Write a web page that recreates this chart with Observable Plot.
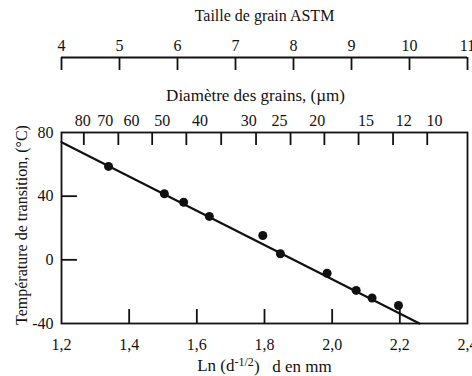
<!DOCTYPE html>
<html>
<head>
<meta charset="utf-8">
<script src="https://cdn.jsdelivr.net/npm/d3@7"></script>
<script src="https://cdn.jsdelivr.net/npm/@observablehq/plot@0.6"></script>
<style>
  body { margin: 0; background: #fff; }
  #chart svg { display: block; }
  #chart svg text { font-family: "Liberation Serif", "Times New Roman", serif; }
</style>
</head>
<body>
<div id="chart"></div>
<script>
// Transition temperature (°C) against Ln(d^-1/2), d in mm
const lnInvSqrtD = [1.339, 1.504, 1.561, 1.637, 1.795, 1.847, 1.985, 2.071, 2.118, 2.196];
const transitionTemp = [58.7, 41.5, 36.2, 27.3, 15.3, 3.8, -8.4, -19.2, -24.0, -28.7];

// Regression line endpoints
const fitX = [1.2, 2.258];
const fitY = [73.9, -40];

// Axis ticks
const xTicks = [1.2, 1.4, 1.6, 1.8, 2.0, 2.2, 2.4];
const yTicks = [-40, 0, 40, 80];
const astmSizes = [4, 5, 6, 7, 8, 9, 10, 11];
const diameterLabels = [80, 70, 60, 50, 40, 30, 25, 20, 15, 12, 10];
const diameterTickX = [1.266, 1.368, 1.468, 1.569, 1.672, 1.775, 1.877, 1.977, 2.078, 2.180, 2.281];

const points = lnInvSqrtD.map((x, i) => ({x, y: transitionTemp[i]}));
const fit = fitX.map((x, i) => ({x, y: fitY[i]}));

// Secondary scales expressed on the main x axis
const astmToX = d3.scaleLinear([4, 11], [1.2, 2.4]);
const diameterToX = (um) => -0.5 * Math.log(um / 1000);
const comma = (v) => v.toFixed(1).replace(".", ",");

const W = 472, H = 376;
const mTop = 132, mRight = 5, mBottom = 53, mLeft = 61;
const frameH = H - mTop - mBottom;
const frameW = W - mLeft - mRight;
const ink = "#111";
const font = "Liberation Serif, Times New Roman, serif";
const fs = 16;
const txt = {fontSize: fs, fontFamily: font, fill: ink, textAnchor: "middle", lineAnchor: "middle"};
const xTitle = "Ln (d-1/2)   d en mm";

const chart = Plot.plot({
  width: W,
  height: H,
  marginTop: mTop,
  marginRight: mRight,
  marginBottom: mBottom,
  marginLeft: mLeft,
  style: {fontFamily: font, fontSize: fs + "px", background: "#fff", color: ink, overflow: "visible"},
  x: {domain: [1.2, 2.4], axis: null},
  y: {domain: [-40, 80], axis: null},
  marks: [
    Plot.frame({stroke: ink, strokeWidth: 1.8}),

    // bottom axis: inward ticks and labels
    Plot.ruleX(xTicks.slice(1, -1), {x: d => d, insetTop: frameH - 14, stroke: ink, strokeWidth: 1.8}),
    Plot.text(xTicks, {x: d => d, frameAnchor: "bottom", dy: 21, text: comma, ...txt}),

    // left axis: inward ticks and labels
    Plot.ruleY(yTicks.slice(1, -1), {y: d => d, insetRight: frameW - 16, stroke: ink, strokeWidth: 1.8}),
    Plot.text(yTicks, {y: d => d, frameAnchor: "left", dx: -8, text: d => String(d), ...txt, textAnchor: "end"}),

    // grain diameter axis along the top of the frame
    Plot.ruleX(diameterTickX, {x: d => d, insetBottom: frameH - 13, stroke: ink, strokeWidth: 1.8}),
    Plot.text(diameterLabels, {x: diameterToX, frameAnchor: "top", dy: -12, text: d => String(d), ...txt}),
    Plot.text(["Diamètre des grains, (µm)"], {frameAnchor: "top", dx: -9, dy: -37, ...txt, fontSize: 17}),

    // ASTM grain size axis above
    Plot.ruleY([80], {dy: -75, stroke: ink, strokeWidth: 1.8}),
    Plot.ruleX(astmSizes, {x: astmToX, insetTop: -75, insetBottom: frameH + 75 - 13, stroke: ink, strokeWidth: 1.8}),
    Plot.text(astmSizes, {x: astmToX, frameAnchor: "top", dy: -87, text: d => String(d), ...txt}),
    Plot.text(["Taille de grain ASTM"], {frameAnchor: "top", dx: 0, dy: -117, ...txt}),

    // axis titles
    Plot.text(["Température de transition, (°C)"], {frameAnchor: "left", dx: -40, dy: -3, rotate: -90, ...txt}),
    Plot.text([xTitle], {frameAnchor: "bottom", dy: 42, ...txt, fontSize: 17}),

    // data
    Plot.line(fit, {x: "x", y: "y", stroke: ink, strokeWidth: 2.2}),
    Plot.dot(points, {x: "x", y: "y", r: 4.5, fill: ink, stroke: "none"})
  ]
});

// superscript exponent in the x title
const xt = [...chart.querySelectorAll("text")].find(t => t.textContent === xTitle);
if (xt) {
  const ns = "http://www.w3.org/2000/svg";
  xt.textContent = "";
  xt.style.whiteSpace = "pre";
  const parts = [["Ln (d", null, null], ["-1/2", "-0.45em", 12], [")   d en mm", "0.4em", 17]];
  for (const [s, dy, size] of parts) {
    const t = document.createElementNS(ns, "tspan");
    t.textContent = s;
    if (dy) t.setAttribute("dy", dy);
    if (size) t.setAttribute("font-size", size);
    xt.appendChild(t);
  }
}

document.getElementById("chart").appendChild(chart);
</script>
</body>
</html>
